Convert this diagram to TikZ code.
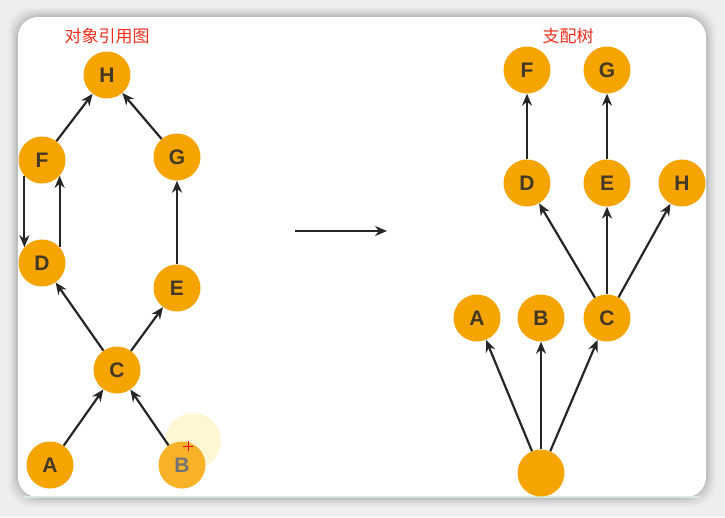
\documentclass[tikz,border=0pt]{standalone}
\usepackage{fontspec}
\setmainfont{Liberation Sans}
\newfontfamily\cjk{Noto Sans CJK SC}
\usetikzlibrary{arrows.meta}
\definecolor{nodeorange}{RGB}{245,164,0}
\definecolor{nodelight}{RGB}{247,178,40}
\definecolor{textgray}{RGB}{68,56,38}
\definecolor{titlered}{RGB}{240,48,30}
\definecolor{bggray}{RGB}{238,238,238}
\definecolor{glow}{RGB}{255,246,212}
\definecolor{edgegreen}{RGB}{218,232,222}
\begin{document}
\begin{tikzpicture}[x=1pt,y=-1pt,
  vtx/.style={circle,fill=nodeorange,minimum size=47pt,inner sep=0pt,text=textgray,font=\bfseries\fontsize{21}{24}\selectfont},
  edge/.style={draw=black!85,line width=2.2pt,-{Stealth[length=12pt,width=10pt]}},
  title/.style={text=titlered,font=\cjk\fontsize{17}{19}\selectfont}]
\useasboundingbox (0,0) rectangle (725,517);
% background and card
\fill[bggray] (0,0) rectangle (725,517);
\foreach \d/\o in {10/0.02,8/0.03,6/0.04,4/0.05,2/0.07}{
  \fill[black,opacity=\o,rounded corners=24pt] (18-\d,17-\d) rectangle (706+\d,497+\d);
}
\fill[white,rounded corners=20pt] (18,17) rectangle (706,497);
\draw[edgegreen,line width=1.5pt] (24,497) -- (700,497);

% titles
\node[title] (t1) at (107,36) {对象引用图};
\node[title] (t2) at (568,36) {支配树};

% left graph
\fill[glow] (193,441) circle (28);
\node[vtx] (H) at (107,75) {H};
\node[vtx] (F) at (42,160) {F};
\node[vtx] (G) at (177,157) {G};
\node[vtx] (D) at (42,263) {D};
\node[vtx] (E) at (177,288) {E};
\node[vtx] (C) at (117,370) {C};
\node[vtx] (A) at (50,465) {A};
\node[vtx,fill=nodelight,text=black!55] (B) at (182,465) {B};
\draw[red!90!black,line width=0.6pt] (183,446) -- (193,446) (188,441) -- (188,451);

\draw[edge] (A) -- (C);
\draw[edge] (B) -- (C);
\draw[edge] (C) -- (D);
\draw[edge] (C) -- (E);
\draw[edge] (E) -- (G);
\draw[edge] (G) -- (H);
\draw[edge] (F) -- (H);
\draw[edge] (F.222) -- (D.138);
\draw[edge] (D.42) -- (F.318);

% middle arrow
\coordinate (m1) at (295,231);
\coordinate (m2) at (387,231);
\draw[edge] (m1) -- (m2);

% right tree
\node[vtx] (rF) at (527,70) {F};
\node[vtx] (rG) at (607,70) {G};
\node[vtx] (rD) at (527,183) {D};
\node[vtx] (rE) at (607,183) {E};
\node[vtx] (rH) at (682,183) {H};
\node[vtx] (rA) at (477,318) {A};
\node[vtx] (rB) at (541,318) {B};
\node[vtx] (rC) at (607,318) {C};
\node[vtx] (root) at (541,473) {};

\draw[edge] (root) -- (rA);
\draw[edge] (root) -- (rB);
\draw[edge] (root) -- (rC);
\draw[edge] (rC) -- (rD);
\draw[edge] (rC) -- (rE);
\draw[edge] (rC) -- (rH);
\draw[edge] (rD) -- (rF);
\draw[edge] (rE) -- (rG);
\end{tikzpicture}
\end{document}
